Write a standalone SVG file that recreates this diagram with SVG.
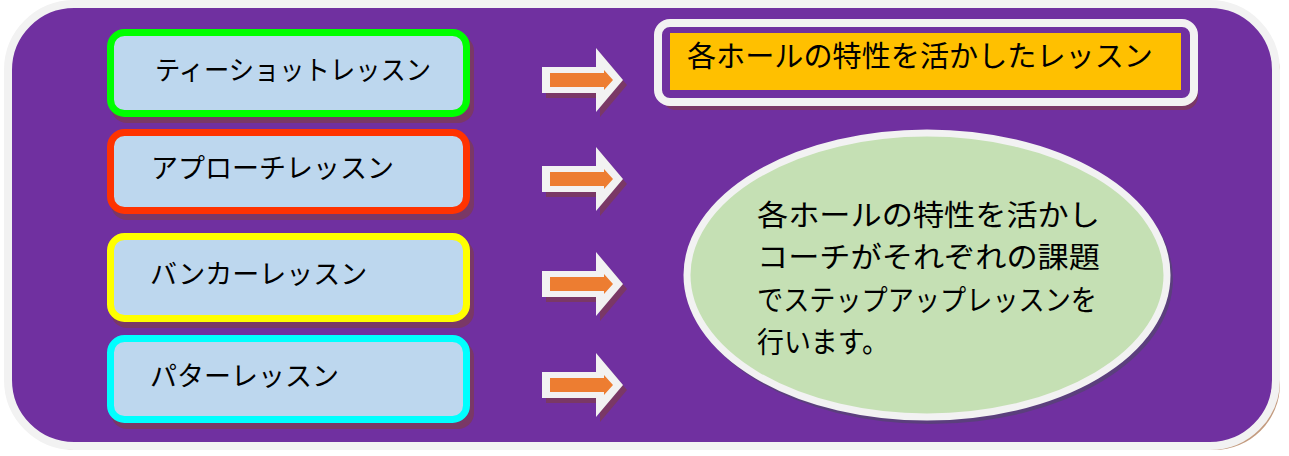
<svg xmlns="http://www.w3.org/2000/svg" width="1289" height="456" viewBox="0 0 1289 456">
<style>
.lbl{font-family:"Noto Sans CJK JP","Noto Sans",sans-serif;fill:#000;}
.box{fill:#BDD7EE;stroke-width:7;}
.bshadow{fill:#7A3866;}
</style>
<defs>
<g id="arrow">
<path d="M546,-8 H600 V-27 L627,5 L600,37 V18 H546 Z" fill="#7A3866"/>
<path d="M542,-13 H596 V-32 L623,0 L596,32 V13 H542 Z" fill="#F2F2F2"/>
<path d="M550,-7 H604 V-10 L613,0 L604,10 V7 H550 Z" fill="#ED7D31"/>
</g>
</defs>
<rect width="1289" height="456" fill="#FFFFFF"/>
<g id="background">
<rect x="12" y="8" width="1268" height="442" rx="66" fill="#C39B7F"/>
<rect x="8" y="4" width="1268" height="442" rx="66" fill="#7030A0" stroke="#F2F2F2" stroke-width="8"/>
</g>
<g id="node-teeshot">
<rect class="bshadow" x="111" y="35" width="363" height="88" rx="16"/>
<rect class="box" x="110.5" y="32.5" width="356" height="81" rx="14" stroke="#00FF00"/>
<text class="lbl" x="155" y="80" font-size="27" textLength="276" lengthAdjust="spacingAndGlyphs">ティーショットレッスン</text>
</g>
<g id="node-approach">
<rect class="bshadow" x="111" y="135" width="363" height="85" rx="16"/>
<rect class="box" x="110.5" y="132.5" width="356" height="78" rx="14" stroke="#FF3300"/>
<text class="lbl" x="151" y="178" font-size="27">アプローチレッスン</text>
</g>
<g id="node-bunker">
<rect class="bshadow" x="111" y="239" width="363" height="89" rx="16"/>
<rect class="box" x="110.5" y="236.5" width="356" height="82" rx="14" stroke="#FFFF00"/>
<text class="lbl" x="150" y="284" font-size="27">バンカーレッスン</text>
</g>
<g id="node-putter">
<rect class="bshadow" x="111" y="341" width="363" height="88" rx="16"/>
<rect class="box" x="110.5" y="338.5" width="356" height="81" rx="14" stroke="#00FFFF"/>
<text class="lbl" x="150" y="386" font-size="27">パターレッスン</text>
</g>
<g id="connectors">
<use href="#arrow" transform="translate(0,80)"/>
<use href="#arrow" transform="translate(0,179)"/>
<use href="#arrow" transform="translate(0,284)"/>
<use href="#arrow" transform="translate(0,385)"/>
</g>
<g id="node-title">
<rect x="662" y="27" width="536" height="83" rx="14" fill="#7A3866"/>
<rect x="658" y="23" width="536" height="79" rx="12" fill="#7030A0" stroke="#F2F2F2" stroke-width="8"/>
<rect x="670" y="33" width="511" height="57" fill="#FFC000"/>
<text class="lbl" x="687" y="67" font-size="29" textLength="466" lengthAdjust="spacingAndGlyphs">各ホールの特性を活かしたレッスン</text>
</g>
<g id="node-description">
<ellipse cx="930" cy="279" rx="243" ry="145" fill="#5B3F7D"/>
<ellipse cx="927" cy="275" rx="240" ry="142" fill="#C5E0B4" stroke="#F2F2F2" stroke-width="7"/>
<text class="lbl" font-size="29">
<tspan x="757" y="226" textLength="343" lengthAdjust="spacingAndGlyphs">各ホールの特性を活かし</tspan>
<tspan x="757" y="268" textLength="343" lengthAdjust="spacingAndGlyphs">コーチがそれぞれの課題</tspan>
<tspan x="757" y="311" textLength="340" lengthAdjust="spacingAndGlyphs">でステップアップレッスンを</tspan>
<tspan x="757" y="353" textLength="132" lengthAdjust="spacingAndGlyphs">行います。</tspan>
</text>
</g>
</svg>
